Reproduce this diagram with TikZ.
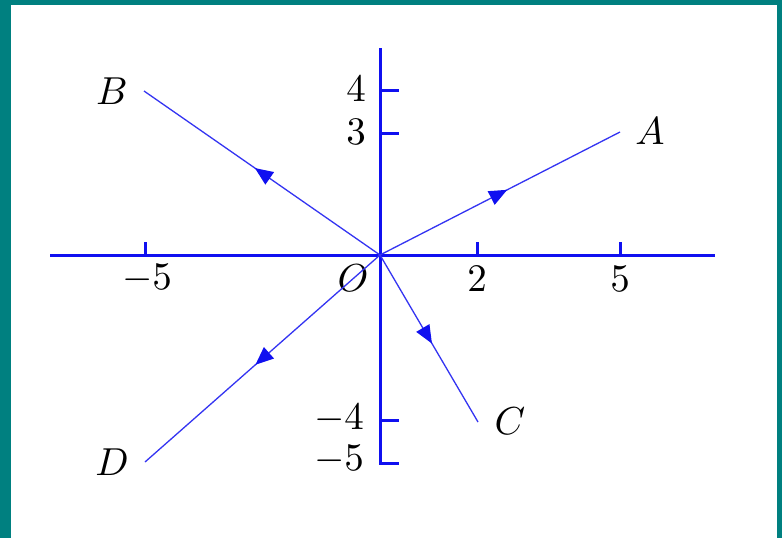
\documentclass[tikz,border=0pt]{standalone}
\usetikzlibrary{arrows.meta,decorations.markings}
\definecolor{frameteal}{RGB}{0,128,128}
\definecolor{axblue}{RGB}{16,16,240}
\begin{document}
\begin{tikzpicture}[x=1pt,y=-1pt,
  axis/.style={draw=axblue,line width=3pt},
  ray/.style={draw=axblue!85,line width=1.3pt,postaction={decorate},
    decoration={markings,mark=at position 0.53 with {\arrow[axblue]{Triangle[length=18pt,width=15pt]}}}},
  lbl/.style={inner sep=0pt,scale=3.9}]
\useasboundingbox (0,0) rectangle (782,538);
\fill[frameteal] (0,0) rectangle (782,538);
\fill[white] (10.5,5) rectangle (777,538);
% axes
\coordinate (xl) at (50,255);
\coordinate (xr) at (715,255);
\coordinate (yt) at (380,48);
\coordinate (yb) at (380,464.5);
\draw[axis] (xl) -- (xr);
\draw[axis] (yt) -- (yb);
% x ticks
\foreach \x/\n in {145/m5,477/p2,620/p5}{
  \coordinate (xt\n) at (\x,255);
  \draw[axis] (xt\n) -- ++(0,-13);
}
% y ticks
\foreach \y/\n in {90/p4,133/p3,420/m4,463/m5}{
  \coordinate (yt\n) at (380,\y);
  \draw[axis] (yt\n) -- ++(19,0);
}
% tick labels
\node[lbl] (lxm5) at (147,279) {$-5$};
\node[lbl] (lxp2) at (477,279) {$2$};
\node[lbl] (lxp5) at (620,279) {$5$};
\node[lbl] (lyp4) at (356,89) {$4$};
\node[lbl] (lyp3) at (356,132) {$3$};
\node[lbl] (lym4) at (339,419) {$-4$};
\node[lbl] (lym5) at (339,460) {$-5$};
\node[lbl] (lO) at (353,278) {$O$};
% points
\coordinate (O) at (380,255);
\coordinate (pA) at (620,132);
\coordinate (pB) at (144,91);
\coordinate (pC) at (478,422);
\coordinate (pD) at (145,462);
\draw[ray] (O) -- (pA);
\draw[ray] (O) -- (pB);
\draw[ray] (O) -- (pC);
\draw[ray] (O) -- (pD);
% point labels
\node[lbl] (A) at (650,131) {$A$};
\node[lbl] (B) at (112,91) {$B$};
\node[lbl] (C) at (510,421) {$C$};
\node[lbl] (D) at (112,462) {$D$};
\end{tikzpicture}
\end{document}
